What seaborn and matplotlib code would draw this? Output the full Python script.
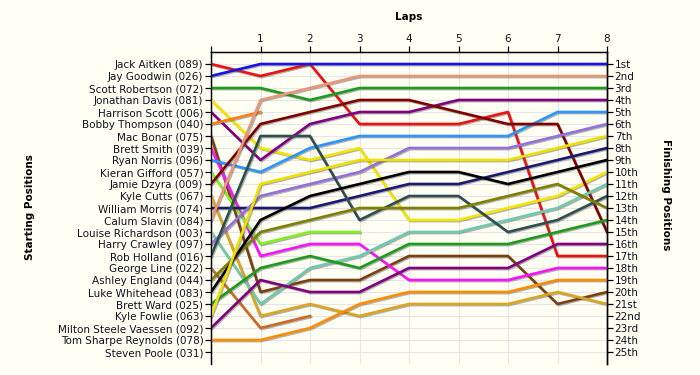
# Lap chart: starting grid on the left, finishing order on the right
import numpy as np
import pandas as pd
import matplotlib
matplotlib.use("Agg")
import matplotlib.pyplot as plt
import matplotlib.patheffects as pe
import seaborn as sns

laps = list(range(9))

drivers = [
    "Jack Aitken (089)", "Jay Goodwin (026)", "Scott Robertson (072)",
    "Jonathan Davis (081)", "Harrison Scott (006)", "Bobby Thompson (040)",
    "Mac Bonar (075)", "Brett Smith (039)", "Ryan Norris (096)",
    "Kieran Gifford (057)", "Jamie Dzyra (009)", "Kyle Cutts (067)",
    "William Morris (074)", "Calum Slavin (084)", "Louise Richardson (003)",
    "Harry Crawley (097)", "Rob Holland (016)", "George Line (022)",
    "Ashley England (044)", "Luke Whitehead (083)", "Brett Ward (025)",
    "Kyle Fowlie (063)", "Milton Steele Vaessen (092)",
    "Tom Sharpe Reynolds (078)", "Steven Poole (031)",
]

colors = [
    "#ee1111", "#1515e8", "#1c9c1c", "#f5e400", "#800080", "#ff8010",
    "#7a4010", "#ff10ff", "#2a95ff", "#80f020", "#800000", "#daa520",
    "#1a1a72", "#e9967a", "#6ec9ad", "#9370db", "#2f4f4f", "#cd6a28",
    "#808000", "#000000", "#1c9c1c", "#f0e000", "#800080", "#ff8c00",
    "#999999",
]

nan = np.nan
# position at the end of each lap (lap 0 = grid), nan once retired
jack_aitken = [1, 2, 1, 6, 6, 6, 5, 17, 17]
jay_goodwin = [2, 1, 1, 1, 1, 1, 1, 1, 1]
scott_robertson = [3, 3, 4, 3, 3, 3, 3, 3, 3]
jonathan_davis = [4, 8, 9, 8, 14, 14, 13, 12, 10]
harrison_scott = [5, 9, 6, 5, 5, 4, 4, 4, 4]
bobby_thompson = [6, 5, nan, nan, nan, nan, nan, nan, nan]
mac_bonar = [7, 20, 19, 19, 17, 17, 17, 21, 20]
brett_smith = [8, 17, 16, 16, 19, 19, 19, 18, 18]
ryan_norris = [9, 10, 8, 7, 7, 7, 7, 5, 5]
kieran_gifford = [10, 16, 15, 15, nan, nan, nan, nan, nan]
jamie_dzyra = [11, 6, 5, 4, 4, 5, 6, 6, 15]
kyle_cutts = [12, 22, 21, 22, 21, 21, 21, 20, 21]
william_morris = [13, 13, 13, 12, 11, 11, 10, 9, 8]
calum_slavin = [14, 4, 3, 2, 2, 2, 2, 2, 2]
louise_richardson = [15, 21, 18, 17, 15, 15, 14, 13, 11]
harry_crawley = [16, 12, 11, 10, 8, 8, 8, 7, 6]
rob_holland = [17, 7, 7, 14, 12, 12, 15, 14, 12]
george_line = [18, 23, 22, nan, nan, nan, nan, nan, nan]
ashley_england = [19, 15, 14, 13, 13, 13, 12, 11, 13]
luke_whitehead = [20, 14, 12, 11, 10, 10, 11, 10, 9]
brett_ward = [21, 18, 17, 18, 16, 16, 16, 15, 14]
kyle_fowlie = [22, 11, 10, 9, 9, 9, 9, 8, 7]
milton_steele_vaessen = [23, 19, 20, 20, 18, 18, 18, 16, 16]
tom_sharpe_reynolds = [24, 24, 23, 21, 20, 20, 20, 19, 19]
steven_poole = [nan] * 9

positions = [
    jack_aitken, jay_goodwin, scott_robertson, jonathan_davis, harrison_scott,
    bobby_thompson, mac_bonar, brett_smith, ryan_norris, kieran_gifford,
    jamie_dzyra, kyle_cutts, william_morris, calum_slavin, louise_richardson,
    harry_crawley, rob_holland, george_line, ashley_england, luke_whitehead,
    brett_ward, kyle_fowlie, milton_steele_vaessen, tom_sharpe_reynolds,
    steven_poole,
]

finish_labels = []
for n in range(1, 26):
    suffix = {1: "st", 2: "nd", 3: "rd"}.get(n % 10 if n not in (11, 12, 13) else 0, "th")
    finish_labels.append(f"{n}{suffix}")

rows = []
for name, pos in zip(drivers, positions):
    for lap, p in zip(laps, pos):
        rows.append({"driver": name, "lap": lap, "position": p})
df = pd.DataFrame(rows).dropna()

bg = "#fffff4"
text_col = "#111122"
plt.rcParams["font.family"] = ["DejaVu Sans"]
plt.rcParams["font.size"] = 7.5

fig = plt.figure(figsize=(7, 3.75), dpi=100, facecolor=bg)
ax = fig.add_axes([211 / 700, 1 - 364 / 375, 396 / 700, 312 / 375], facecolor=bg)

shadow = [pe.SimpleLineShadow(offset=(0.8, -0.8), shadow_color="#555555", alpha=0.45),
          pe.Normal()]
sns.lineplot(data=df, x="lap", y="position", hue="driver", hue_order=drivers,
             palette=dict(zip(drivers, colors)), estimator=None, sort=False,
             linewidth=1.9, legend=False, ax=ax, path_effects=shadow, zorder=3)

ax.set_xlim(0, 8)
ax.set_ylim(26, 0)
ax.grid(True, color="#e6e6e6", linewidth=0.8, zorder=0)
ax.set_axisbelow(True)

ax.xaxis.tick_top()
ax.set_xticks(laps)
ax.set_xticklabels([""] + [str(l) for l in laps[1:]], color=text_col)
ax.set_yticks(range(1, 26))
ax.set_yticklabels(drivers, color=text_col)
ax.tick_params(axis="both", direction="out", length=4, width=0.9, pad=1.5)
ax.set_xlabel("")
ax.set_ylabel("")

for side in ["left", "top", "right"]:
    ax.spines[side].set_color("black")
    ax.spines[side].set_linewidth(1.0)
ax.spines["bottom"].set_visible(False)

ax2 = ax.twinx()
ax2.set_ylim(26, 0)
ax2.set_yticks(range(1, 26))
ax2.set_yticklabels(finish_labels, color=text_col)
ax2.tick_params(axis="y", direction="out", length=4, width=0.9, pad=1.5)
ax2.spines["bottom"].set_visible(False)
ax2.spines["right"].set_linewidth(1.0)

fig.text(409 / 700, 1 - 17 / 375, "Laps", ha="center", va="center",
         fontsize=7.5, fontweight="bold", color="black")
fig.text(30 / 700, 1 - 207 / 375, "Starting Positions", ha="center", va="center",
         rotation=90, fontsize=7.5, fontweight="bold", color="black")
fig.text(666 / 700, 1 - 195 / 375, "Finishing Positions", ha="center", va="center",
         rotation=270, fontsize=7.5, fontweight="bold", color="black")

fig.savefig("out.png", dpi=100, facecolor=bg)
